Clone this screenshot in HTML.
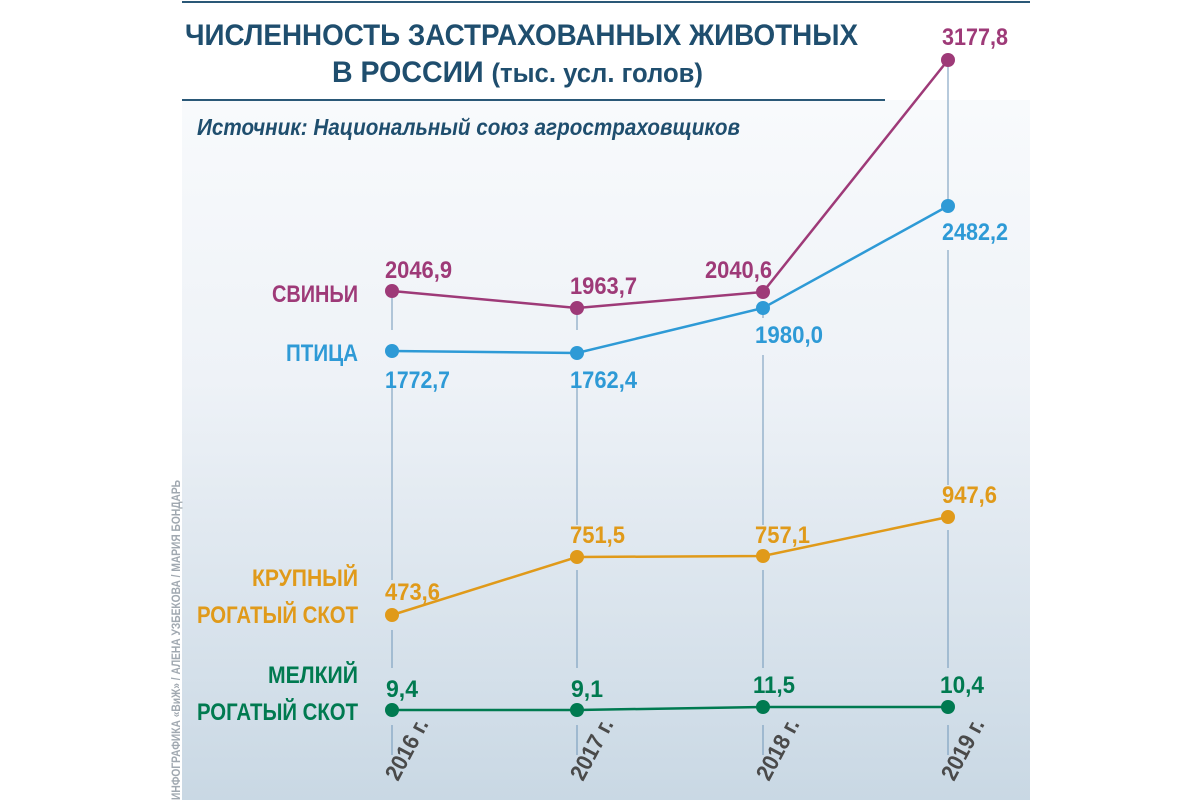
<!DOCTYPE html>
<html><head><meta charset="utf-8"><style>
html,body{margin:0;padding:0;background:#fff;width:1200px;height:800px;overflow:hidden}
svg{display:block}
text{font-family:"Liberation Sans Narrow","Liberation Sans",sans-serif;font-weight:bold}
</style></head><body>
<svg width="1200" height="800" viewBox="0 0 1200 800">
<defs>
<linearGradient id="bg" x1="0" y1="0" x2="0" y2="1">
<stop offset="0" stop-color="#f8fafc"/>
<stop offset="0.4" stop-color="#eef2f7"/>
<stop offset="1" stop-color="#c9d8e4"/>
</linearGradient>
</defs>
<rect x="182" y="100" width="848" height="700" fill="url(#bg)"/>
<rect x="182" y="0" width="848" height="100" fill="#fff"/>
<line x1="182" y1="2" x2="1030" y2="2" stroke="#2a5877" stroke-width="2"/>
<line x1="182" y1="100" x2="885" y2="100" stroke="#2a5877" stroke-width="2"/>
<text x="185" y="45" font-size="30" fill="#1f4e6e" textLength="673" lengthAdjust="spacingAndGlyphs">ЧИСЛЕННОСТЬ ЗАСТРАХОВАННЫХ ЖИВОТНЫХ</text>
<text x="332" y="82" font-size="30" fill="#1f4e6e" textLength="371" lengthAdjust="spacingAndGlyphs">В РОССИИ <tspan font-size="27">(тыс. усл. голов)</tspan></text>
<text x="197" y="135" font-size="23" fill="#1f4e6e" font-style="italic" font-weight="normal" textLength="543" lengthAdjust="spacingAndGlyphs">Источник: Национальный союз агростраховщиков</text>
<text transform="translate(180,800) rotate(-90)" font-size="12" fill="#a0a8b0" font-weight="normal" textLength="320" lengthAdjust="spacingAndGlyphs">ИНФОГРАФИКА «ВиЖ» / АЛЕНА УЗБЕКОВА / МАРИЯ БОНДАРЬ</text>
<g stroke="#6f96b8" stroke-width="1">
<line x1="392" y1="291" x2="392" y2="330"/><line x1="392" y1="375" x2="392" y2="580"/><line x1="392" y1="630" x2="392" y2="668"/><line x1="392" y1="725" x2="392" y2="755"/>
<line x1="577" y1="308" x2="577" y2="330"/><line x1="577" y1="375" x2="577" y2="525"/><line x1="577" y1="570" x2="577" y2="668"/><line x1="577" y1="725" x2="577" y2="755"/>
<line x1="763" y1="308" x2="763" y2="318"/><line x1="763" y1="355" x2="763" y2="525"/><line x1="763" y1="570" x2="763" y2="668"/><line x1="763" y1="725" x2="763" y2="755"/>
<line x1="948" y1="60" x2="948" y2="200"/><line x1="948" y1="250" x2="948" y2="485"/><line x1="948" y1="530" x2="948" y2="668"/><line x1="948" y1="725" x2="948" y2="755"/>
</g>
<g fill="none" stroke-width="2.5">
<polyline points="392,291 577,308 763,292 948,60" stroke="#9e3a78"/>
<polyline points="392,351 577,353 763,308 948,206" stroke="#2e9ad6"/>
<polyline points="392,615 577,557 763,556 948,517" stroke="#e09a1a"/>
<polyline points="392,710 577,710 763,707 948,707" stroke="#007a50"/>
</g>
<g fill="#9e3a78"><circle cx="392" cy="291" r="7"/><circle cx="577" cy="308" r="7"/><circle cx="763" cy="292" r="7"/><circle cx="948" cy="60" r="7"/></g>
<g fill="#2e9ad6"><circle cx="392" cy="351" r="7"/><circle cx="577" cy="353" r="7"/><circle cx="763" cy="308" r="7"/><circle cx="948" cy="206" r="7"/></g>
<g fill="#e09a1a"><circle cx="392" cy="615" r="7"/><circle cx="577" cy="557" r="7"/><circle cx="763" cy="556" r="7"/><circle cx="948" cy="517" r="7"/></g>
<g fill="#007a50"><circle cx="392" cy="710" r="7"/><circle cx="577" cy="710" r="7"/><circle cx="763" cy="707" r="7"/><circle cx="948" cy="707" r="7"/></g>
<g font-size="24" fill="#9e3a78" lengthAdjust="spacingAndGlyphs">
<text x="385" y="278" textLength="67" lengthAdjust="spacingAndGlyphs">2046,9</text><text x="570" y="294" textLength="67" lengthAdjust="spacingAndGlyphs">1963,7</text><text x="705" y="278" textLength="67" lengthAdjust="spacingAndGlyphs">2040,6</text><text x="942" y="45" textLength="66" lengthAdjust="spacingAndGlyphs">3177,8</text>
<text x="272" y="302" textLength="86" lengthAdjust="spacingAndGlyphs">СВИНЬИ</text>
</g>
<g font-size="24" fill="#2e9ad6">
<text x="385" y="388" textLength="65" lengthAdjust="spacingAndGlyphs">1772,7</text><text x="570" y="388" textLength="67" lengthAdjust="spacingAndGlyphs">1762,4</text><text x="755" y="343" textLength="68" lengthAdjust="spacingAndGlyphs">1980,0</text><text x="942" y="240" textLength="66" lengthAdjust="spacingAndGlyphs">2482,2</text>
<text x="286" y="361" textLength="72" lengthAdjust="spacingAndGlyphs">ПТИЦА</text>
</g>
<g font-size="24" fill="#e09a1a">
<text x="385" y="600" textLength="55" lengthAdjust="spacingAndGlyphs">473,6</text><text x="570" y="543" textLength="55" lengthAdjust="spacingAndGlyphs">751,5</text><text x="755" y="543" textLength="55" lengthAdjust="spacingAndGlyphs">757,1</text><text x="942" y="503" textLength="55" lengthAdjust="spacingAndGlyphs">947,6</text>
<text x="252" y="586" textLength="106" lengthAdjust="spacingAndGlyphs">КРУПНЫЙ</text>
<text x="197" y="623" textLength="161" lengthAdjust="spacingAndGlyphs">РОГАТЫЙ СКОТ</text>
</g>
<g font-size="24" fill="#007a50">
<text x="386" y="697" textLength="32" lengthAdjust="spacingAndGlyphs">9,4</text><text x="571" y="697" textLength="32" lengthAdjust="spacingAndGlyphs">9,1</text><text x="753" y="693" textLength="42" lengthAdjust="spacingAndGlyphs">11,5</text><text x="940" y="693" textLength="44" lengthAdjust="spacingAndGlyphs">10,4</text>
<text x="268" y="683" textLength="90" lengthAdjust="spacingAndGlyphs">МЕЛКИЙ</text>
<text x="197" y="720" textLength="161" lengthAdjust="spacingAndGlyphs">РОГАТЫЙ СКОТ</text>
</g>
<g font-size="23" fill="#4a4a4a">
<text transform="translate(398,782) rotate(-62)" textLength="66" lengthAdjust="spacingAndGlyphs">2016 г.</text>
<text transform="translate(583,782) rotate(-62)" textLength="66" lengthAdjust="spacingAndGlyphs">2017 г.</text>
<text transform="translate(769,782) rotate(-62)" textLength="66" lengthAdjust="spacingAndGlyphs">2018 г.</text>
<text transform="translate(954,782) rotate(-62)" textLength="66" lengthAdjust="spacingAndGlyphs">2019 г.</text>
</g>
</svg>
</body></html>
